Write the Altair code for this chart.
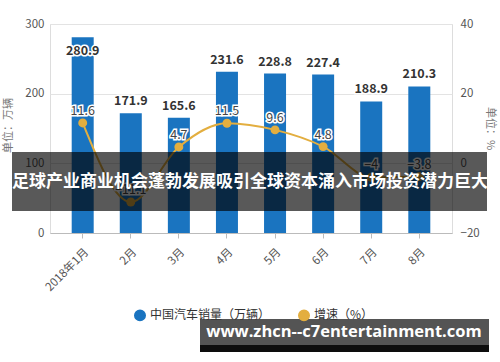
import altair as alt
import pandas as pd

months = ["2018年1月", "2月", "3月", "4月", "5月", "6月", "7月", "8月"]
sales = [280.9, 171.9, 165.6, 231.6, 228.8, 227.4, 188.9, 210.3]
growth = [11.6, -11.1, 4.7, 11.5, 9.6, 4.8, -4, -3.8]
series = ["中国汽车销量（万辆）", "增速（%）"]
left_ticks = [0, 100, 200, 300]
right_ticks = [-20, 0, 20, 40]
banner_text = ["足球产业商业机会蓬勃发展吸引全球资本涌入市场投资潜力巨大"]
site_text = ["www.zhcn--c7entertainment.com"]

FONT = "Noto Sans CJK SC"
BLUE = "#1a74c0"
GOLD = "#e3ae3f"

df = pd.DataFrame({"month": months, "sales": sales, "growth": growth})

xenc = alt.X(
    "month:N", sort=months,
    scale=alt.Scale(paddingInner=0.54, paddingOuter=0.45),
    axis=alt.Axis(title=None, labelAngle=-45, labelFontSize=11.5, labelColor="#555",
                  tickColor="#bbb", domainColor="#bbb", tickSize=5, labelPadding=8,
                  labelFont=FONT, zindex=0),
)

color = alt.Color(
    "series:N",
    scale=alt.Scale(domain=series, range=[BLUE, GOLD]),
    legend=alt.Legend(title=None, orient="none", legendX=84, legendY=285,
                      direction="horizontal", symbolType="circle", symbolSize=110,
                      labelFontSize=12, labelColor="#333", labelFont=FONT, labelLimit=300,
                      columnPadding=24, zindex=0),
)

ys = alt.Y("sales:Q", scale=alt.Scale(domain=[0, 300]),
           axis=alt.Axis(values=left_ticks, title="单位：万辆", grid=True, gridColor="#e3e3e3",
                         domain=False, ticks=False, labelFontSize=11.5, labelColor="#555",
                         labelFont=FONT, labelPadding=6, titleFontSize=11, titleColor="#777",
                         titleFontWeight="normal", titleX=-37, titleY=101, titleFont=FONT, zindex=0))

yg = alt.Y("growth:Q", scale=alt.Scale(domain=[-20, 40]),
           axis=alt.Axis(orient="right", values=right_ticks, title="单位：%", grid=False,
                         domain=False, ticks=False, labelFontSize=11.5, labelColor="#555",
                         labelFont=FONT, labelPadding=8, titleFontSize=11, titleColor="#777",
                         titleFontWeight="normal", titleAngle=90, titleX=32, titleY=104,
                         titleFont=FONT, zindex=0))

base = alt.Chart(df)

bars = base.mark_bar(size=22).transform_calculate(series="'" + series[0] + "'").encode(
    x=xenc, y=ys, color=color)

bar_lab_lo = base.transform_filter("datum.sales < 260")
bar_lab_hi = base.transform_filter("datum.sales >= 260")
text_style = dict(font=FONT, fontSize=12.5, fontWeight="bold")
lab_enc = dict(x=xenc, y=ys, text=alt.Text("sales:Q", format=".1f"))
bl1h = bar_lab_lo.mark_text(dy=-12, stroke="white", strokeWidth=3, fill="white", **text_style).encode(**lab_enc)
bl1 = bar_lab_lo.mark_text(dy=-12, fill="#333", **text_style).encode(**lab_enc)
bl2h = bar_lab_hi.mark_text(dy=14, stroke="white", strokeWidth=3, fill="white", **text_style).encode(**lab_enc)
bl2 = bar_lab_hi.mark_text(dy=14, fill="#333", **text_style).encode(**lab_enc)

left = alt.layer(bars, bl1h, bl1, bl2h, bl2)

line = base.mark_line(interpolate="monotone", strokeWidth=2).transform_calculate(
    series="'" + series[1] + "'").encode(x=xenc, y=yg, color=color)
pts = base.mark_circle(size=80, color=GOLD, opacity=1).encode(x=xenc, y=yg)
glab = dict(x=xenc, y=yg, text=alt.Text("growth:Q", format="~g"))
plh = base.mark_text(dy=-12, stroke="white", strokeWidth=3, fill="white", font=FONT, fontSize=12.5).encode(**glab)
pl = base.mark_text(dy=-12, fill="#444", font=FONT, fontSize=12.5).encode(**glab)

right = alt.layer(line, pts, plh, pl)

bdf = pd.DataFrame({"t": banner_text})
sdf = pd.DataFrame({"t": site_text})

banner = alt.Chart(bdf).mark_rect(color="black", opacity=0.65).encode(
    x=alt.value(-38), x2=alt.value(437), y=alt.value(128), y2=alt.value(187))
banner_t = alt.Chart(bdf).mark_text(color="white", font=FONT, fontSize=17, fontWeight="bold",
                                    align="center", baseline="middle").encode(
    x=alt.value(200), y=alt.value(157.5), text="t:N")
site = alt.Chart(sdf).mark_rect(color="black", opacity=0.67).encode(
    x=alt.value(150), x2=alt.value(439), y=alt.value(295), y2=alt.value(321))
site_strip = alt.Chart(sdf).mark_rect(color="black", opacity=0.95).encode(
    x=alt.value(150), x2=alt.value(439), y=alt.value(321), y2=alt.value(328))
site_t = alt.Chart(sdf).mark_text(color="white", font="Open Sans", fontSize=16.5, fontWeight="bold",
                                  align="center", baseline="middle").encode(
    x=alt.value(294), y=alt.value(308), text="t:N")

chart = alt.layer(left, right, banner, banner_t, site, site_strip, site_t).resolve_scale(
    y="independent"
).properties(
    width=402, height=209, autosize="none",
    padding={"left": 50, "top": 24, "right": 48, "bottom": 129},
).configure_view(stroke=None).configure(font=FONT, background="white")

chart.save("out.html", embed_options={"renderer": "svg", "actions": False})
